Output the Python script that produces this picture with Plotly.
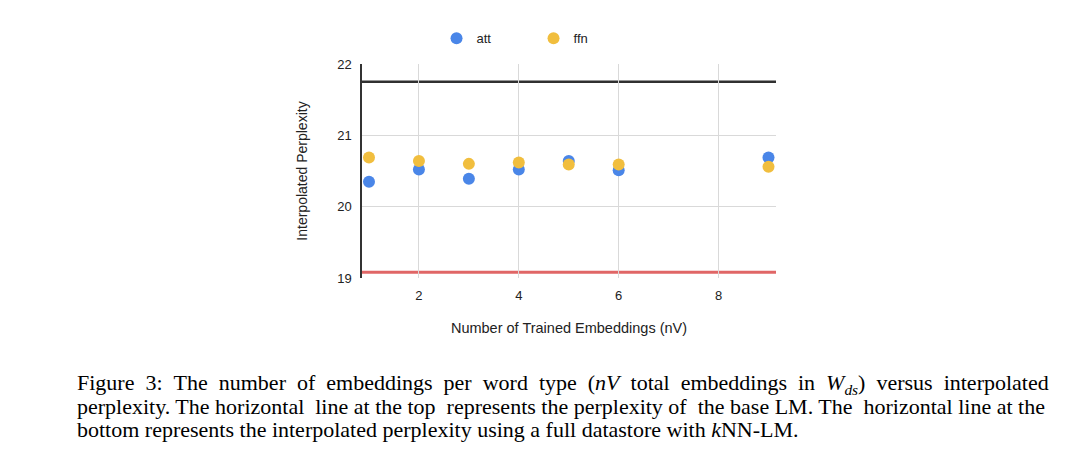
import plotly.graph_objects as go

# Number of trained embeddings (nV) and the interpolated perplexity per setting
n_embeddings = [1, 2, 3, 4, 5, 6, 9]
att_ppl = [20.35, 20.52, 20.39, 20.52, 20.64, 20.51, 20.69]
ffn_ppl = [20.69, 20.64, 20.60, 20.62, 20.59, 20.59, 20.56]

base_lm_ppl = 21.75    # horizontal line at the top
full_knnlm_ppl = 19.08  # horizontal line at the bottom

caption_lines = [
    "Figure 3: The number of embeddings per word type (<i>nV</i> total embeddings in <i>W</i><sub><i>ds</i></sub>) versus interpolated",
    "perplexity. The horizontal line at the top represents the perplexity of the base LM. The horizontal line at the",
    "bottom represents the interpolated perplexity using a full datastore with <i>k</i>NN-LM.",
]

_BLUE, _YELLOW = "#4a86e8", "#f1be3e"
_SANS = "Arial, 'Liberation Sans', sans-serif"
_SERIF = "'Times New Roman', 'Liberation Serif', serif"
_NBSP = "\u00a0"


def _justify(line: str, extra: int, every: int = 1) -> str:
    """Fake LaTeX full justification by padding word gaps with non-breaking spaces."""
    words = line.split(" ")
    out = words[0]
    for i, word in enumerate(words[1:]):
        pad = _NBSP * extra if i % every == every // 2 else ""
        out += " " + pad + word
    return out


fig = go.Figure()
fig.add_scatter(x=n_embeddings, y=att_ppl, mode="markers", name="att",
                marker=dict(color=_BLUE, size=12))
fig.add_scatter(x=n_embeddings, y=ffn_ppl, mode="markers", name="ffn",
                marker=dict(color=_YELLOW, size=12))

fig.add_hline(y=base_lm_ppl, line=dict(color="#303030", width=2.5), layer="below")
fig.add_hline(y=full_knnlm_ppl, line=dict(color="#e06666", width=3), layer="below")

# caption below the chart, one annotation per line (23 px line pitch);
# the first two lines are padded out towards the right margin like the paper
caption_text = [_justify(caption_lines[0], 1), _justify(caption_lines[1], 1, every=4), caption_lines[2]]
for i, line in enumerate(caption_text):
    fig.add_annotation(text=line, xref="paper", yref="paper", x=-0.693, y=-0.493 - i * 0.1075,
                       xanchor="left", yanchor="middle", showarrow=False, align="left",
                       font=dict(family=_SERIF, size=22, color="#000000"))

fig.update_layout(
    width=1080, height=473,
    paper_bgcolor="white", plot_bgcolor="white",
    margin=dict(l=354, r=312, t=56, b=203),
    font=dict(family=_SANS, color="#222222"),
    showlegend=True,
    legend=dict(orientation="h", x=0.18, xanchor="left", y=1.12, yanchor="middle",
                font=dict(size=13, color="#222222"), entrywidth=52, entrywidthmode="pixels"),
    xaxis=dict(range=[0.86, 9.15], tickvals=[2, 4, 6, 8], showgrid=True, gridcolor="#d9d9d9",
               gridwidth=1, zeroline=False, showline=False, ticks="", ticklabelstandoff=8,
               tickfont=dict(size=13, color="#222222"),
               title=dict(text="Number of Trained Embeddings (nV)", standoff=20,
                          font=dict(size=14.5, color="#222222"))),
    yaxis=dict(range=[19, 22], tickvals=[19, 20, 21, 22], showgrid=True, gridcolor="#d9d9d9",
               gridwidth=1, zeroline=False, showline=True, linecolor="#333333", linewidth=1.5,
               ticks="", ticklabelstandoff=6, tickfont=dict(size=13, color="#222222"),
               title=dict(text="Interpolated Perplexity", standoff=26,
                          font=dict(size=14, color="#222222"))),
)

fig.write_html("out.html")
